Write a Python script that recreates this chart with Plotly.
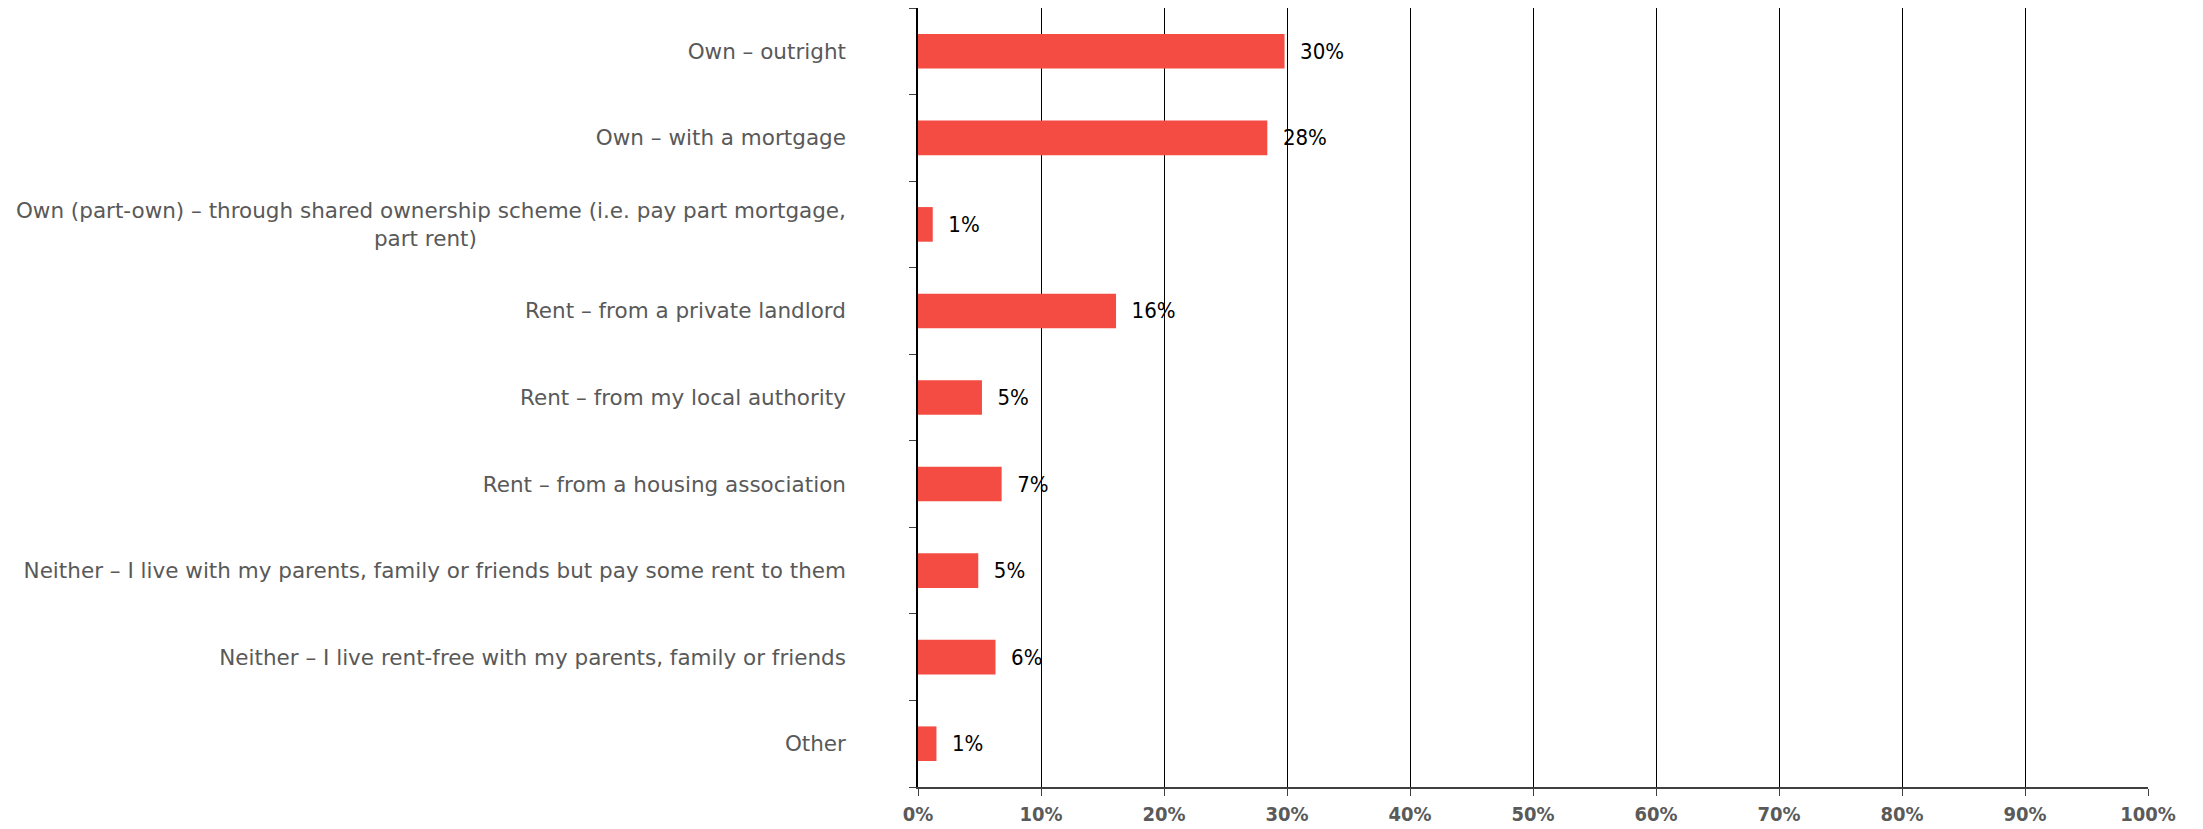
import plotly.graph_objects as go

categories = [
    "Own – outright",
    "Own – with a mortgage",
    "Own (part-own) – through shared ownership scheme (i.e. pay part mortgage, part rent)",
    "Rent – from a private landlord",
    "Rent – from my local authority",
    "Rent – from a housing association",
    "Neither – I live with my parents, family or friends but pay some rent to them",
    "Neither – I live rent-free with my parents, family or friends",
    "Other",
]
values = [29.8, 28.4, 1.2, 16.1, 5.2, 6.8, 4.9, 6.3, 1.5]
value_labels = ["30%", "28%", "1%", "16%", "5%", "7%", "5%", "6%", "1%"]
tick_labels = [
    "Own – outright",
    "Own – with a mortgage",
    "Own (part-own) – through shared ownership scheme (i.e. pay part mortgage,<br>part rent)" + "\u00a0" * 54,
    "Rent – from a private landlord",
    "Rent – from my local authority",
    "Rent – from a housing association",
    "Neither – I live with my parents, family or friends but pay some rent to them",
    "Neither – I live rent-free with my parents, family or friends",
    "Other",
]
x_ticks = [0, 10, 20, 30, 40, 50, 60, 70, 80, 90, 100]
x_tick_labels = [f"{v}%" for v in x_ticks]

fig = go.Figure()
fig.add_trace(go.Bar(
    y=categories,
    x=values,
    orientation="h",
    width=0.4,
    marker=dict(color="#F44B42", line=dict(width=0)),
    text=["\u00a0\u00a0" + t for t in value_labels],
    textposition="outside",
    textfont=dict(family="Liberation Sans Narrow, DejaVu Sans Condensed, sans-serif", size=22, color="#000000"),
    cliponaxis=False,
    hoverinfo="skip",
))

fig.update_layout(
    width=2187,
    height=821,
    margin=dict(l=910, r=47, t=0, b=42),
    paper_bgcolor="white",
    plot_bgcolor="white",
    showlegend=False,
    bargap=0.6,
    xaxis=dict(
        range=[0, 100],
        tickvals=x_ticks,
        ticktext=x_tick_labels,
        automargin=False,
        showgrid=True,
        gridcolor="#000000",
        gridwidth=1,
        zeroline=False,
        showline=True,
        linecolor="#404040",
        linewidth=1.5,
        ticks="outside",
        ticklen=7,
        tickcolor="#404040",
        ticklabelstandoff=1,
        tickfont=dict(family="DejaVu Sans Condensed, DejaVu Sans, sans-serif", size=20, color="#5a5a5a", weight="bold"),
        fixedrange=True,
    ),
    yaxis=dict(
        categoryorder="array",
        categoryarray=categories,
        tickvals=categories,
        ticktext=tick_labels,
        autorange="reversed",
        automargin=False,
        showgrid=False,
        zeroline=False,
        showline=True,
        linecolor="#000000",
        linewidth=1.5,
        ticks="outside",
        tickson="boundaries",
        ticklen=7,
        tickcolor="#404040",
        ticklabelstandoff=66,
        tickfont=dict(family="DejaVu Sans, sans-serif", size=21.5, color="#595959"),
        fixedrange=True,
    ),
)

fig.write_html("out.html")
